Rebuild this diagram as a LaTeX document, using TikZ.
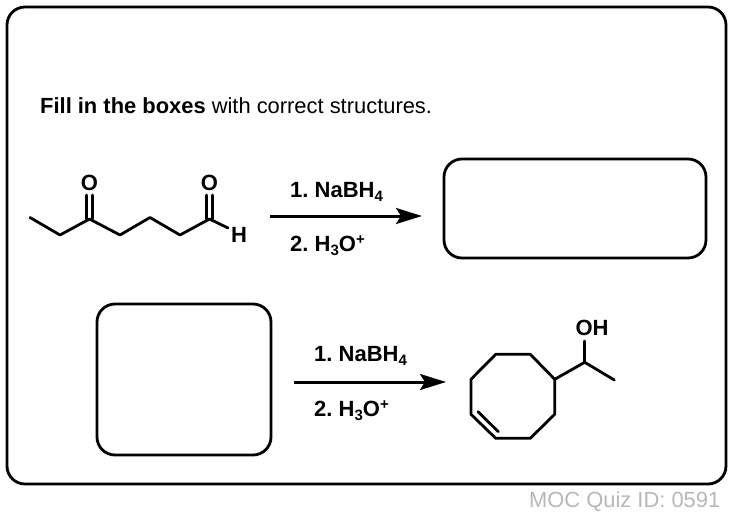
\documentclass[tikz,border=0pt]{standalone}
\usepackage{fontspec}
\setmainfont{Liberation Sans}
\usetikzlibrary{arrows.meta}
\definecolor{footgrey}{gray}{0.72}
\frenchspacing
\tikzset{
  x=1pt,y=-1pt,
  frame/.style={draw=black,line width=2.8pt,rounded corners=18pt},
  bond/.style={draw=black,line width=2.8pt,line cap=round,line join=round},
  atom/.style={inner sep=0pt,font=\fontsize{22}{24}\selectfont\bfseries,anchor=center},
  reagent/.style={inner sep=0pt,font=\fontsize{22}{24}\selectfont\bfseries,anchor=base west},
  rxn/.style={draw=black,line width=3pt,-{Stealth[length=26pt,width=16pt,inset=5pt]}},
  body/.style={inner sep=0pt,anchor=base west,font=\fontsize{21.9}{24}\selectfont},
}
\begin{document}
\begin{tikzpicture}
\useasboundingbox (0,0) rectangle (734,514);
\fill[white] (0,0) rectangle (734,514);
\draw[frame] (7,7) rectangle (726,484);
\node[body] (title) at (40,113) {\textbf{Fill in the boxes} with correct structures.};
\node[body,text=footgrey] (foot) at (529,507) {MOC Quiz ID: 0591};

% boxes
\draw[frame] (444,159) rectangle (706,258);
\draw[frame] (97,304) rectangle (271,455);

% top molecule
\coordinate (a1) at (30,217.5);
\coordinate (a2) at (60,235);
\coordinate (a3) at (89.5,219);
\coordinate (a4) at (120,235);
\coordinate (a5) at (150,217.5);
\coordinate (a6) at (180,235);
\coordinate (a7) at (209.5,219);
\node[atom] (o1) at (89.5,183) {O};
\node[atom] (o2) at (209.5,183) {O};
\node[atom] (h1) at (239,235) {H};
\draw[bond] (a1)--(a2)--(a3)--(a4)--(a5)--(a6)--(a7)--(228,228);
\draw[bond] (86.5,219)--(86.5,195) (92.5,219)--(92.5,195);
\draw[bond] (206.5,219)--(206.5,195) (212.5,219)--(212.5,195);

% arrows
\coordinate (r1s) at (270,216);
\coordinate (r1e) at (422,216);
\coordinate (r2s) at (294,382);
\coordinate (r2e) at (446,382);
\draw[rxn] (r1s)--(r1e);
\draw[rxn] (r2s)--(r2e);
\node[reagent] (t1) at (290,197) {1. NaBH\raisebox{-4pt}{\fontsize{15}{15}\selectfont 4}};
\node[reagent] (t2) at (290,251) {2. H\raisebox{-4pt}{\fontsize{15}{15}\selectfont 3}O\raisebox{7pt}{\fontsize{15}{15}\selectfont +}};
\node[reagent] (t3) at (314,361) {1. NaBH\raisebox{-4pt}{\fontsize{15}{15}\selectfont 4}};
\node[reagent] (t4) at (314,416) {2. H\raisebox{-4pt}{\fontsize{15}{15}\selectfont 3}O\raisebox{7pt}{\fontsize{15}{15}\selectfont +}};

% bottom molecule
\coordinate (c1) at (495.7,354.3);
\coordinate (c2) at (530.3,354.3);
\coordinate (c3) at (554.7,379.3);
\coordinate (c4) at (554.7,414.3);
\coordinate (c5) at (530.3,438.3);
\coordinate (c6) at (495.7,438.3);
\coordinate (c7) at (471,414.3);
\coordinate (c8) at (471,379.3);
\coordinate (s1) at (584.7,362.3);
\coordinate (s2) at (614.3,380);
\node[atom] (oh) at (592,328) {OH};
\draw[bond] (c1)--(c2)--(c3)--(c4)--(c5)--(c6)--(c7)--(c8)--cycle;
\draw[bond] (478,411.7)--(498.3,431.7);
\draw[bond] (c3)--(s1)--(s2);
\draw[bond] (s1)--(584.7,341);
\end{tikzpicture}
\end{document}
